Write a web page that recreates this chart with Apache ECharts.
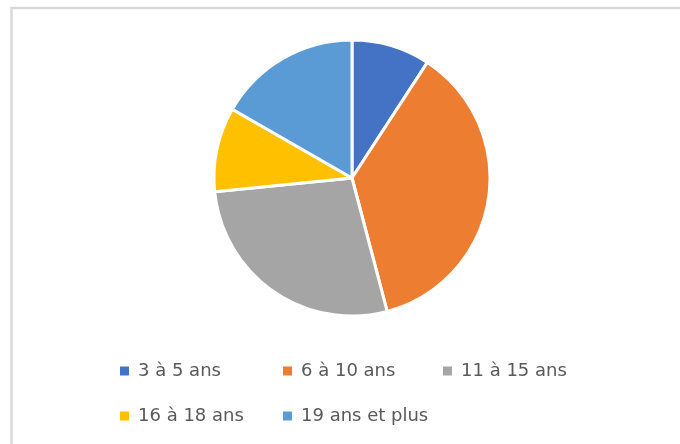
<!DOCTYPE html>
<html>
<head>
<meta charset="utf-8">
<script src="https://cdn.jsdelivr.net/npm/echarts@6/dist/echarts.min.js"></script>
<style>
  html, body { margin: 0; padding: 0; background: #fff; }
  #chart { width: 680px; height: 444px; }
</style>
</head>
<body>
<div id="chart"></div>
<script>
// tranches d'age et parts (%)
const categories = ['3 à 5 ans', '6 à 10 ans', '11 à 15 ans', '16 à 18 ans', '19 ans et plus']
const values = [9.2, 36.7, 27.5, 9.9, 16.7]
const colors = ['#4472C4', '#ED7D31', '#A5A5A5', '#FFC000', '#5B9BD5']

// position de chaque entree de legende (deux lignes)
const legendPos = [[118, 362], [281, 362], [441, 362], [118, 407], [281, 407]]

const chart = echarts.init(document.getElementById('chart'))

const option = {
  backgroundColor: '#fff',
  color: colors,
  animation: false,
  graphic: [{
    type: 'rect',
    shape: { x: 11.5, y: 8, width: 720, height: 480 },
    style: { fill: 'none', stroke: '#d9d9d9', lineWidth: 2.5 },
    silent: true
  }],
  legend: categories.map((name, i) => ({
    data: [name],
    left: legendPos[i][0],
    top: legendPos[i][1],
    icon: 'rect',
    itemWidth: 11,
    itemHeight: 11,
    padding: 0,
    textStyle: {
      fontFamily: 'DejaVu Sans',
      fontSize: 18,
      color: '#595959',
      padding: [0, 0, 0, 3]
    }
  })),
  series: [{
    type: 'pie',
    center: [352, 178],
    radius: 138,
    startAngle: 90,
    clockwise: true,
    label: { show: false },
    labelLine: { show: false },
    itemStyle: { borderColor: '#fff', borderWidth: 3 },
    emphasis: { disabled: true },
    data: categories.map((name, i) => ({ name: name, value: values[i] }))
  }]
}

chart.setOption(option)
</script>
</body>
</html>
